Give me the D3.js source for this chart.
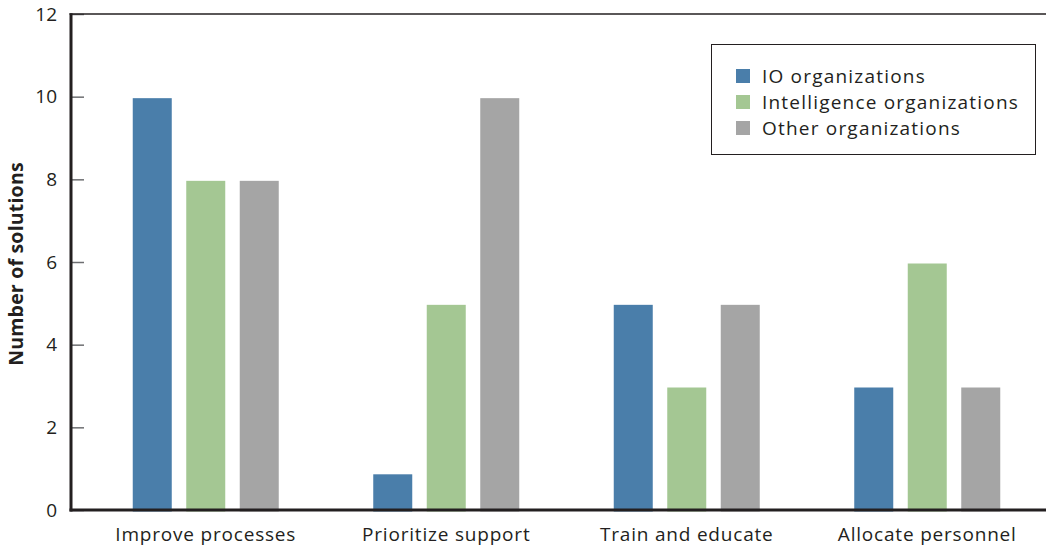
<!DOCTYPE html>
<html>
<head>
<meta charset="utf-8">
<script src="https://cdn.jsdelivr.net/npm/d3@7"></script>
<style>
  html, body { margin: 0; padding: 0; background: #fff; }
  svg { display: block; font-family: "Open Sans", "Noto Sans", sans-serif; }
</style>
</head>
<body>
<svg id="chart" width="1046" height="548"></svg>
<script>
const categories = ["Improve processes", "Prioritize support", "Train and educate", "Allocate personnel"];
const seriesNames = ["IO organizations", "Intelligence organizations", "Other organizations"];
const ioValues = [10, 0.9, 5, 3];
const intelValues = [8, 5, 3, 6];
const otherValues = [8, 10, 5, 3];
const yTicks = [0, 2, 4, 6, 8, 10, 12];
const colors = ["#4a7eaa", "#a4c793", "#a5a5a5"];

const seriesValues = [ioValues, intelValues, otherValues];
const data = categories.map((c, i) => ({
  category: c,
  values: seriesNames.map((s, j) => ({ series: s, value: seriesValues[j][i] }))
}));

const svg = d3.select("#chart");
const axisX = 71, y0 = 510, yTop = 14;
const textColor = "#231f20";

const y = d3.scaleLinear().domain([0, 12]).range([y0, yTop]);
const x0 = d3.scaleBand().domain(categories).range([85.5, 1047.5]).paddingInner(0).paddingOuter(0);
const x1 = d3.scaleBand().domain(seriesNames)
  .range([47.25, x0.bandwidth() - 47.25]).paddingInner(0.271).paddingOuter(0);
const color = d3.scaleOrdinal().domain(seriesNames).range(colors);

// bars
const groups = svg.append("g").selectAll("g").data(data).join("g")
  .attr("transform", d => `translate(${x0(d.category)},0)`);
groups.selectAll("rect").data(d => d.values).join("rect")
  .attr("x", d => x1(d.series))
  .attr("width", x1.bandwidth())
  .attr("y", d => y(d.value) + 1.5)
  .attr("height", d => y(0) - y(d.value))
  .attr("fill", d => color(d.series));

// y axis
const yAxis = d3.axisLeft(y).tickValues(yTicks).tickSizeInner(-13).tickSizeOuter(0).tickPadding(14);
const gy = svg.append("g").attr("transform", `translate(${axisX},0)`).call(yAxis);
gy.select(".domain").remove();
gy.selectAll(".tick line").attr("stroke", "#6d6e71").attr("stroke-width", 1.5);
gy.selectAll(".tick text").attr("font-size", 19).attr("fill", textColor)
  .attr("font-family", "'Open Sans', sans-serif");

// x axis labels
const xAxis = d3.axisBottom(x0).tickSize(0).tickPadding(18);
const gx = svg.append("g").attr("transform", `translate(0,${y0})`).call(xAxis);
gx.select(".domain").remove();
gx.selectAll(".tick text").attr("font-size", 19).attr("letter-spacing", "0.8px").attr("fill", textColor)
  .attr("font-family", "'Open Sans', sans-serif");

// frame lines
svg.append("line").attr("x1", axisX - 1.5).attr("x2", 1046).attr("y1", yTop).attr("y2", yTop)
  .attr("stroke", textColor).attr("stroke-width", 1.5);
svg.append("line").attr("x1", axisX).attr("x2", axisX).attr("y1", yTop - 0.75).attr("y2", y0 + 1.5)
  .attr("stroke", textColor).attr("stroke-width", 3);
svg.append("line").attr("x1", axisX - 1.5).attr("x2", 1046).attr("y1", y0).attr("y2", y0)
  .attr("stroke", textColor).attr("stroke-width", 3);

// y title
svg.append("text")
  .attr("transform", `translate(23,${(y0 + yTop) / 2 + 2}) rotate(-90)`)
  .attr("text-anchor", "middle")
  .attr("font-size", 19.5).attr("font-weight", "bold").attr("letter-spacing", "0.2px").attr("fill", textColor)
  .text("Number of solutions");

// legend
const legend = svg.append("g");
legend.append("rect").attr("x", 711.5).attr("y", 44.5).attr("width", 324).attr("height", 110)
  .attr("fill", "#fff").attr("stroke", textColor).attr("stroke-width", 1);
const items = legend.selectAll("g.item").data(seriesNames).join("g").attr("class", "item")
  .attr("transform", (d, i) => `translate(736,${69 + i * 26})`);
items.append("rect").attr("width", 14).attr("height", 14).attr("fill", d => color(d));
items.append("text").attr("x", 26).attr("y", 13.5).attr("font-size", 19).attr("letter-spacing", "1.2px")
  .attr("fill", textColor).text(d => d);
</script>
</body>
</html>
